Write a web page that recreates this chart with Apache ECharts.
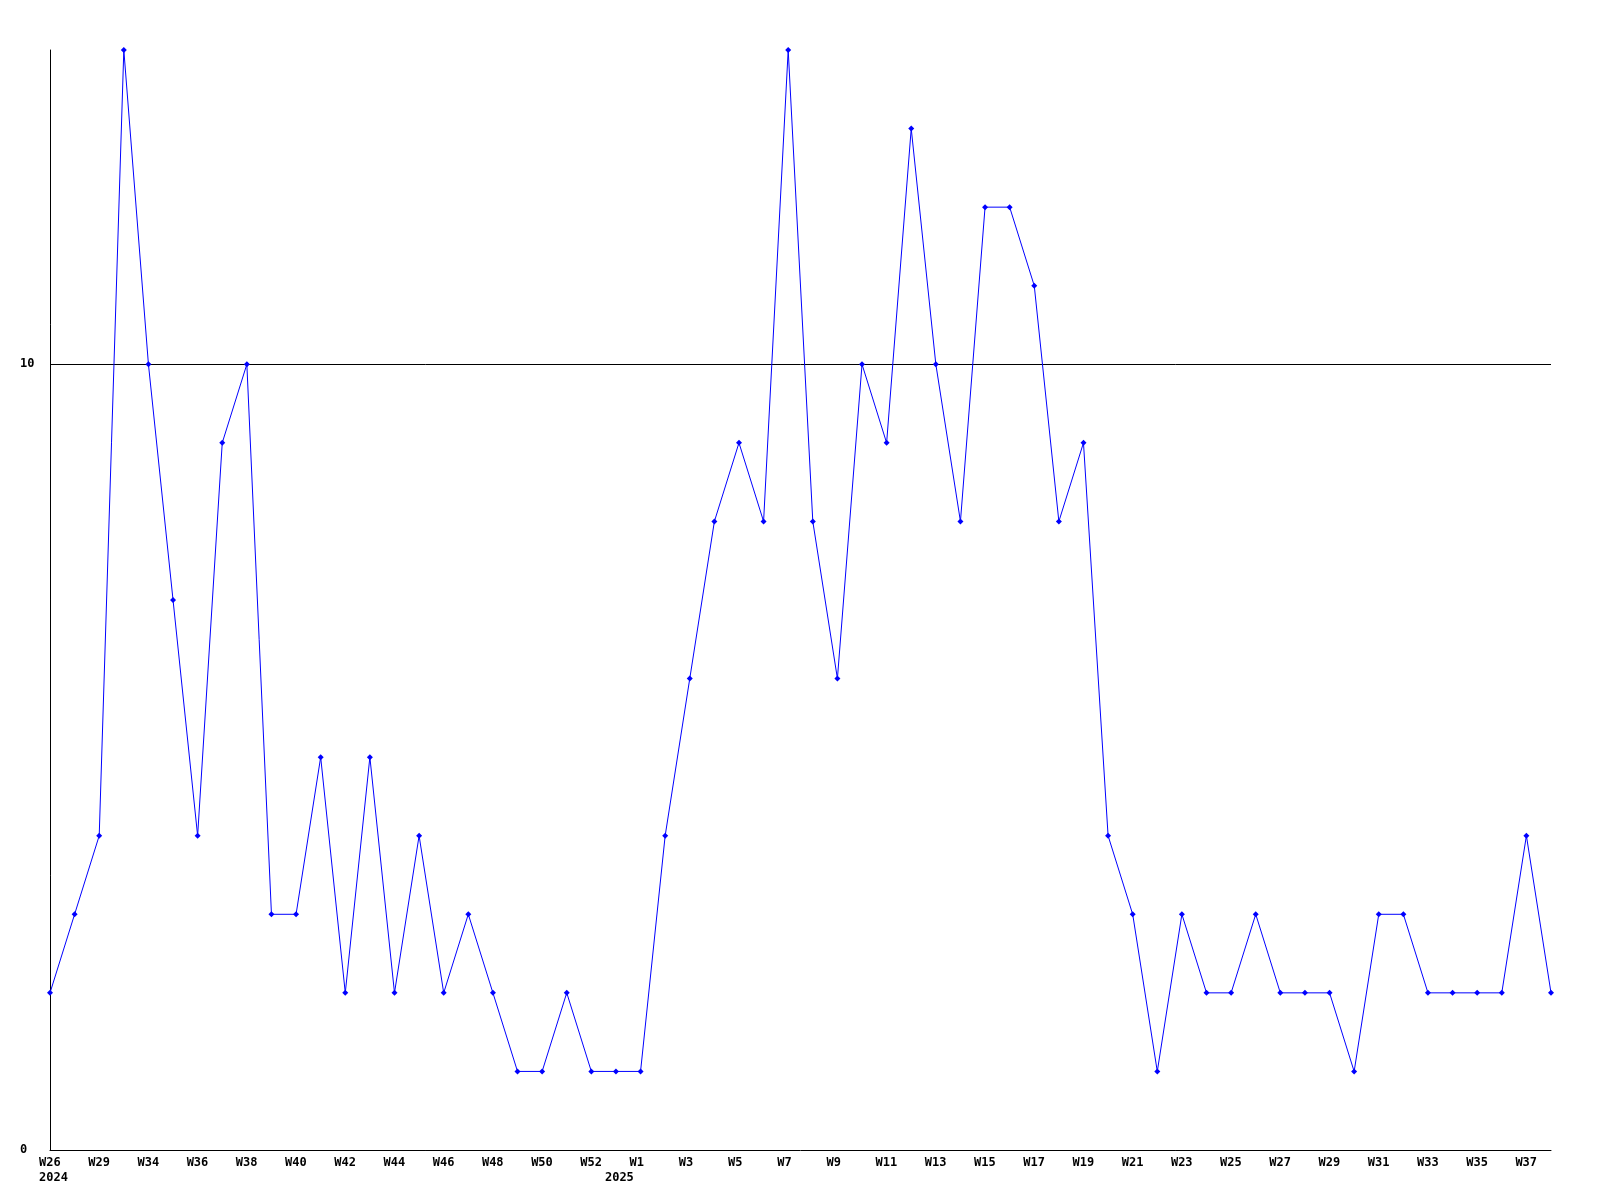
<!DOCTYPE html>
<html>
<head>
<meta charset="utf-8">
<script src="https://cdn.jsdelivr.net/npm/echarts@6/dist/echarts.min.js"></script>
<style>
html,body{margin:0;padding:0;background:#fff;}
#chart{width:1600px;height:1200px;}
</style>
</head>
<body>
<div id="chart"></div>
<script>
const weeks = ['W26','W27','W29','W30','W34','W35','W36','W37','W38','W39','W40','W41','W42','W43','W44','W45','W46','W47','W48','W49','W50','W51','W52','W53',
  'W1','W2','W3','W4','W5','W6','W7','W8','W9','W10','W11','W12','W13','W14','W15','W16','W17','W18','W19','W20','W21','W22','W23','W24','W25','W26 ','W27 ','W28','W29 ','W30 ','W31','W32','W33','W34 ','W35 ','W36 ','W37 ','W38 '];
const values = [2,3,4,14,10,7,4,9,10,3,
  3,5,2,5,2,4,2,3,2,1,
  1,2,1,1,1,4,6,8,9,8,
  14,8,6,10,9,13,10,8,12,12,
  11,8,9,4,3,1,3,2,2,3,
  2,2,2,1,3,3,2,2,2,2,
  4,2];
const yearMarks = {0: '2024', 23: '2025'};
const yMax = 14;
const yInterval = 10;

const chart = echarts.init(document.getElementById('chart'), null, {renderer: 'canvas'});
const font = '"DejaVu Sans Mono", "Liberation Mono", monospace';
chart.setOption({
  animation: false,
  backgroundColor: '#ffffff',
  grid: {left: 50, right: 49, top: 50, bottom: 50, containLabel: false},
  xAxis: {
    type: 'category',
    data: weeks,
    boundaryGap: false,
    axisLine: {show: true, lineStyle: {color: '#000', width: 1}},
    axisTick: {show: false},
    splitLine: {show: false},
    axisLabel: {
      show: true,
      margin: 5,
      align: 'center',
      interval: function (index) { return index % 2 === 0 || yearMarks[index] !== undefined; },
      formatter: function (value, index) {
        const wk = (index % 2 === 0) ? value.trim() : ' ';
        const yr = yearMarks[index];
        return '{a|' + wk + '}' + (yr ? '\n{a|' + yr + '}' : '');
      },
      rich: {
        a: {width: 22, align: 'left', fontFamily: font, fontWeight: 'bold', fontSize: 12, lineHeight: 15, color: '#000'}
      }
    }
  },
  yAxis: {
    type: 'value',
    min: 0,
    max: yMax,
    interval: yInterval,
    axisLine: {show: true, lineStyle: {color: '#000', width: 1}},
    axisTick: {show: false},
    splitLine: {show: true, showMinLine: false, showMaxLine: false, lineStyle: {color: '#000', width: 1}},
    axisLabel: {
      show: true,
      showMaxLabel: false,
      align: 'left',
      margin: 30,
      padding: [3, 0, 0, 0],
      fontFamily: font,
      fontWeight: 'bold',
      fontSize: 12,
      color: '#000'
    }
  },
  series: [{
    type: 'line',
    data: values,
    symbol: 'diamond',
    symbolSize: 6,
    showAllSymbol: true,
    lineStyle: {color: '#0000ff', width: 1},
    itemStyle: {color: '#0000ff'},
    emphasis: {disabled: true}
  }]
});
</script>
</body>
</html>
